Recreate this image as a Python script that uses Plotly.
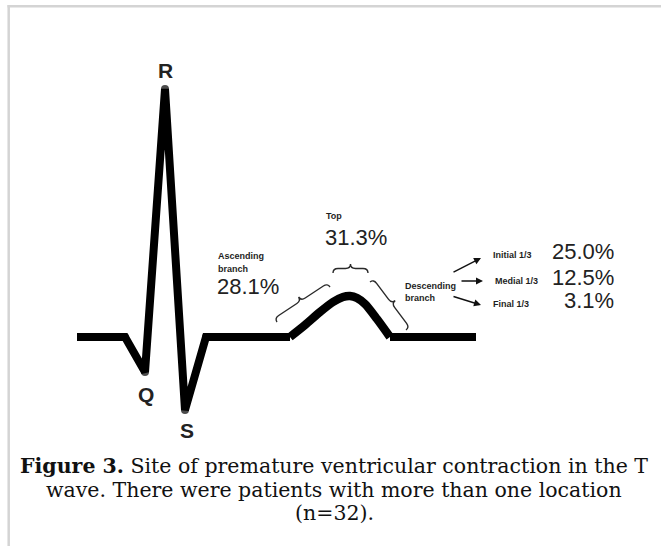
import math
import plotly.graph_objects as go

W, H = 661, 546
BASE = 337  # pixel row of the isoelectric line (amplitude 0)

# ---- ECG waveform (time units, amplitude units; baseline = 0) ----
qrs_t = [77, 125, 145, 165, 185, 206, 290]
qrs_v = [0, 0, -35, 248, -73, 0, 0]
twave_t = [290, 305, 320, 333, 343, 350, 357, 365, 377, 390]
twave_v = [0, 12, 25, 35, 40, 41, 39, 33, 18, 0]
tail_t = [390, 476]
tail_v = [0, 0]

# ---- percentages by site of the T wave ----
sites = ["Ascending branch", "Top", "Initial 1/3", "Medial 1/3", "Final 1/3"]
pct = [28.1, 31.3, 25.0, 12.5, 3.1]

wave_letters = ["R", "Q", "S"]

caption_lines = [
    "<b>Figure 3.</b> Site of premature ventricular contraction in the T",
    "wave. There were patients with more than one location",
    "(n=32).",
]


def amp(py):
    return BASE - py


fig = go.Figure()

fig.add_trace(go.Scatter(x=qrs_t, y=qrs_v, mode="lines+markers",
                         line=dict(color="black", width=8),
                         marker=dict(color="black", size=[0, 8, 8, 8, 8, 8, 0],
                                     line=dict(width=0)),
                         hoverinfo="skip", showlegend=False))
fig.add_trace(go.Scatter(x=twave_t, y=twave_v, mode="lines",
                         line=dict(color="black", width=8.5, shape="spline", smoothing=0.8),
                         hoverinfo="skip", showlegend=False))
fig.add_trace(go.Scatter(x=tail_t, y=tail_v, mode="lines",
                         line=dict(color="black", width=8),
                         hoverinfo="skip", showlegend=False))


def brace_path(p1, p2, d=9.0, q=5.0):
    (x1, y1), (x2, y2) = p1, p2
    L = math.hypot(x2 - x1, y2 - y1)
    ux, uy = (x2 - x1) / L, (y2 - y1) / L
    nx, ny = -uy, ux
    w = d / 2

    def P(t, k):
        return f"{x1 + ux * t + nx * k:.2f},{y1 + uy * t + ny * k:.2f}"

    m = L / 2
    return (f"M {P(0, 0)} Q {P(0, w)} {P(q, w)} L {P(m - q, w)} "
            f"Q {P(m, w)} {P(m, d)} Q {P(m, w)} {P(m + q, w)} "
            f"L {P(L - q, w)} Q {P(L, w)} {P(L, 0)}")


shapes = []
for p1, p2 in [((277, amp(322)), (330, amp(287))),
               ((333, amp(273)), (368, amp(273))),
               ((370, amp(282)), (406, amp(330)))]:
    shapes.append(dict(type="path", xref="x", yref="y", path=brace_path(p1, p2),
                       line=dict(color="#2a2a2a", width=1.4)))

# light frame (left and top edges)
shapes.append(dict(type="line", xref="paper", yref="paper", x0=8.7 / W, x1=8.7 / W,
                   y0=1 - 5 / H, y1=0, line=dict(color="#d4d4d4", width=2.5)))
shapes.append(dict(type="line", xref="paper", yref="paper", x0=7.5 / W, x1=1,
                   y0=1 - 6.2 / H, y1=1 - 6.2 / H, line=dict(color="#d4d4d4", width=2.5)))

ann = []
big = dict(family="Liberation Sans, Arial, sans-serif", size=21, color="#222222")
for lab, (x, py) in zip(wave_letters, [(165, 70), (146, 394), (187, 430)]):
    ann.append(dict(x=x, y=amp(py), text=f"<b>{lab}</b>", showarrow=False,
                    font=big, xanchor="center", yanchor="middle"))

small = dict(family="Liberation Sans, Arial, sans-serif", size=9, color="#1e1e1e")
pfont = dict(family="Liberation Sans, Arial, sans-serif", size=22, color="#222222")


def lbl(text, x, py, font, xanchor="left", height=None):
    d = dict(x=x, y=amp(py), text=text, showarrow=False, font=font,
             xanchor=xanchor, yanchor="middle")
    if height:
        d["height"] = height
    ann.append(d)


lbl("<b>Ascending</b>", 216, 256, small)
lbl("<b>branch</b>", 216, 269, small)
lbl(f"{pct[0]:.1f}%", 215, 286, pfont, height=20)
lbl("<b>Top</b>", 324, 216, small)
lbl(f"{pct[1]:.1f}%", 323, 237, pfont, height=20)
lbl("<b>Descending</b>", 403, 286, small)
lbl("<b>branch</b>", 403, 298, small)
for name, p, py in zip(sites[2:], pct[2:], [255, 281, 304]):
    lbl(f"<b>{name}</b>", 491 if name != "Medial 1/3" else 493, py, small)
    lbl(f"{p:.1f}%", 616, py - 4, pfont, xanchor="right", height=20)

for (tx, tpy), (hx, hpy) in [((452, 273), (481, 258)),
                             ((460, 281), (483, 281)),
                             ((452, 296), (481, 305))]:
    ann.append(dict(x=hx, y=amp(hpy), ax=tx, ay=amp(tpy), axref="x", ayref="y",
                    xref="x", yref="y", text="", showarrow=True, arrowhead=2,
                    arrowsize=1, arrowwidth=1.4, arrowcolor="#111111"))

cap_font = dict(family="DejaVu Serif, serif", size=20.5, color="#111111")
for line, py in zip(caption_lines, [466, 490, 513]):
    ann.append(dict(x=334 / W, y=1 - py / H, xref="paper", yref="paper", text=line,
                    showarrow=False, font=cap_font, xanchor="center", yanchor="middle"))

fig.update_layout(
    width=W, height=H, margin=dict(l=0, r=0, t=0, b=0),
    paper_bgcolor="white", plot_bgcolor="white",
    xaxis=dict(range=[0, W], visible=False, fixedrange=True),
    yaxis=dict(range=[BASE - H, BASE], visible=False, fixedrange=True),
    shapes=shapes, annotations=ann, showlegend=False,
)

fig.write_html("out.html",
               config={"displayModeBar": False},
               post_script="document.body.style.margin='0px';"
                           "document.body.style.padding='0px';"
                           "document.body.style.overflow='hidden';")
